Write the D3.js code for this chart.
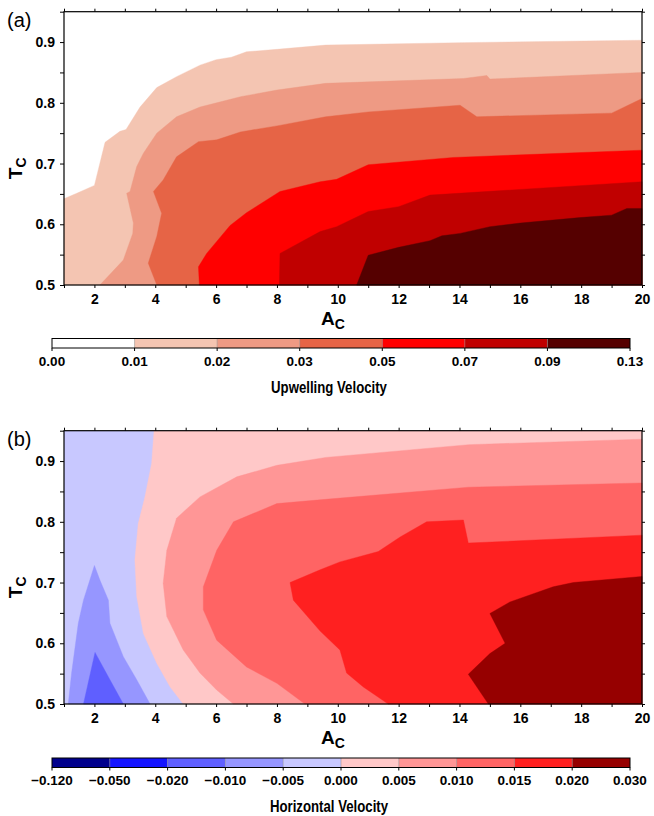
<!DOCTYPE html>
<html>
<head>
<meta charset="utf-8">
<script src="https://cdn.jsdelivr.net/npm/d3@7"></script>
<style>
  html, body { margin: 0; padding: 0; background: #fff; }
  svg { display: block; }
  text { font-family: "Liberation Sans", Arial, Helvetica, sans-serif; }
</style>
</head>
<body>
<svg id="chart" width="654" height="816"></svg>
<script>
// ---------------- DATA ----------------
const A_DOMAIN = [1, 20];
const T_DOMAIN = [0.5, 0.95];
const xTickValues = d3.range(1, 21);            // every integer, labelled when even
const yTickValues = d3.range(0.5, 0.951, 0.05);  // every 0.05, labelled at 0.1

// (a) Upwelling velocity: contour levels, colours and boundaries of region >= level
const upwLabels = ["0.00", "0.01", "0.02", "0.03", "0.05", "0.07", "0.09", "0.13"];
const upwColors = ["#ffffff", "#f4c5b2", "#ee9a84", "#e66446", "#ff0000", "#c00000", "#550000"];
const upw001 = [[20,0.903],[14,0.899],[9.6,0.895],[8.0,0.888],[7.0,0.884],[6.5,0.875],[6.0,0.871],[5.47,0.862],[4.7,0.843],[4.05,0.825],[3.5,0.793],[3.04,0.756],[2.84,0.753],[2.35,0.735],[2.0,0.664],[1.42,0.651],[1,0.642]];
const upw002 = [[20,0.850],[15.0,0.839],[14.9,0.845],[14.13,0.840],[9.6,0.832],[8.0,0.821],[6.8,0.81],[5.47,0.793],[4.7,0.777],[4.05,0.750],[3.61,0.717],[3.39,0.695],[3.17,0.654],[3.06,0.651],[3.28,0.602],[3.26,0.585],[2.95,0.541],[2.18,0.5]];
const upw003 = [[20,0.807],[19.0,0.783],[14.57,0.777],[14.02,0.796],[11.0,0.785],[9.6,0.777],[8.0,0.762],[6.8,0.752],[6.02,0.739],[5.42,0.736],[4.7,0.711],[4.26,0.673],[3.94,0.654],[4.21,0.618],[4.05,0.580],[3.77,0.536],[4.05,0.5]];
const upw005 = [[20,0.722],[13.8,0.710],[11.0,0.698],[9.96,0.674],[9.42,0.670],[8.1,0.654],[7.0,0.619],[6.46,0.598],[5.69,0.552],[5.42,0.530],[5.45,0.5]];
const upw007 = [[20,0.670],[13.03,0.648],[12.0,0.629],[11.0,0.621],[9.96,0.596],[9.42,0.588],[8.1,0.552],[8.08,0.5]];
const upw009 = [[20,0.626],[19.5,0.626],[19.0,0.615],[17.96,0.611],[16.0,0.602],[15.0,0.596],[14.02,0.585],[13.42,0.581],[13.03,0.573],[12.0,0.562],[11.0,0.549],[10.62,0.5]];

// (b) Horizontal velocity
const horLabels = ["\u22120.120", "\u22120.050", "\u22120.020", "\u22120.010", "\u22120.005", "0.000", "0.005", "0.010", "0.015", "0.020", "0.030"];
const horColors = ["#00008c", "#1414ff", "#5f5fff", "#9696ff", "#c8c8ff", "#ffc8c8", "#ff9696", "#ff6464", "#ff2020", "#960000"];
const horM001  = [[2.95,0.5],[2.51,0.54],[2.02,0.585],[1.64,0.5]];                     // <= -0.010
const horM0005 = [[3.83,0.5],[3.39,0.540],[2.95,0.578],[2.51,0.633],[2.46,0.671],[2.18,0.704],[2.0,0.728],[1.85,0.704],[1.64,0.671],[1.47,0.633],[1.25,0.551],[1.14,0.5]]; // <= -0.005
const hor0     = [[3.96,0.95],[3.88,0.896],[3.66,0.841],[3.44,0.797],[3.33,0.737],[3.39,0.677],[3.61,0.616],[4.05,0.567],[4.49,0.528],[4.92,0.5]];
const hor0005  = [[20,0.936],[14.3,0.927],[9.6,0.906],[8.0,0.893],[6.68,0.874],[5.47,0.841],[4.7,0.806],[4.38,0.753],[4.26,0.699],[4.38,0.644],[4.92,0.589],[5.47,0.551],[6.02,0.523],[6.57,0.5]];
const hor001   = [[20,0.864],[14.3,0.857],[9.6,0.837],[8.0,0.830],[6.57,0.800],[6.02,0.753],[5.58,0.693],[5.58,0.655],[6.02,0.605],[7.0,0.561],[8.0,0.534],[8.92,0.5]];
const hor0015  = [[20,0.778],[14.29,0.765],[14.13,0.803],[12.92,0.800],[12.05,0.775],[11.33,0.751],[10.07,0.734],[9.42,0.721],[8.43,0.700],[8.54,0.671],[9.42,0.620],[10.07,0.589],[10.29,0.551],[10.84,0.528],[11.66,0.5]];
const hor002   = [[20,0.710],[17.74,0.700],[17.08,0.693],[15.66,0.668],[15.0,0.649],[15.5,0.600],[15.0,0.583],[14.29,0.549],[14.95,0.5]];

// ---------------- DRAWING ----------------
const svg = d3.select("#chart");
const FONT = "'Liberation Sans', Arial, Helvetica, sans-serif";

function panel(opts) {
  const { top, bottom, left, right, regions, baseColor, tag, labels, colors, title, barTop } = opts;
  const x = d3.scaleLinear().domain(A_DOMAIN).range([left, right]);
  const y = d3.scaleLinear().domain(T_DOMAIN).range([bottom, top]);
  const g = svg.append("g");

  // base
  g.append("rect").attr("x", left).attr("y", top).attr("width", right - left).attr("height", bottom - top)
    .attr("fill", baseColor);

  // perimeter parameter (counter-clockwise: bottom ->, right ^, top <-, left v)
  const [a0, a1] = A_DOMAIN, [t0, t1] = T_DOMAIN;
  const eps = 1e-6;
  function sOf([a, t]) {
    if (Math.abs(t - t0) < eps) return (a - a0) / (a1 - a0);
    if (Math.abs(a - a1) < eps) return 1 + (t - t0) / (t1 - t0);
    if (Math.abs(t - t1) < eps) return 2 + (a1 - a) / (a1 - a0);
    return 3 + (t1 - t) / (t1 - t0);
  }
  const corners = [[a1, t0], [a1, t1], [a0, t1], [a0, t0]]; // s = 1,2,3,4(0)
  function closeRegion(pts) {
    const out = pts.slice();
    let sL = sOf(pts[pts.length - 1]);
    let sF = sOf(pts[0]);
    if (sF <= sL) sF += 4;
    for (let k = Math.ceil(sL + eps); k < sF; k++) out.push(corners[(k - 1) % 4]);
    return out;
  }
  const line = d3.line().x(d => x(d[0])).y(d => y(d[1]));
  regions.forEach(r => {
    g.append("path").attr("d", line(closeRegion(r.pts)) + "Z").attr("fill", r.color)
      .attr("stroke", r.color).attr("stroke-width", 0.4);
  });

  // frame
  g.append("rect").attr("x", left).attr("y", top).attr("width", right - left).attr("height", bottom - top)
    .attr("fill", "none").attr("stroke", "#000").attr("stroke-width", 1.2);

  // axes
  const axB = d3.axisBottom(x).tickValues(xTickValues).tickSize(3).tickPadding(6)
    .tickFormat(d => d % 2 === 0 ? d : "");
  const axT = d3.axisTop(x).tickValues(xTickValues).tickSize(3).tickFormat("");
  const axL = d3.axisLeft(y).tickValues(yTickValues).tickSize(4).tickPadding(5)
    .tickFormat(d => (Math.round(d * 100) % 10 === 0) ? d3.format(".1f")(d) : "");
  const axR = d3.axisRight(y).tickValues(yTickValues).tickSize(3).tickFormat("");
  [[axB, `translate(0,${bottom})`], [axT, `translate(0,${top})`], [axL, `translate(${left},0)`], [axR, `translate(${right},0)`]]
    .forEach(([ax, tr]) => {
      const a = g.append("g").attr("transform", tr).call(ax);
      a.select(".domain").remove();
      a.selectAll("line").attr("stroke", "#000");
      a.selectAll("text").attr("font-family", FONT).attr("font-size", 14).attr("font-weight", "bold").attr("fill", "#000");
    });

  // panel tag
  g.append("text").attr("x", 7).attr("y", top + 15).attr("font-size", 20).attr("font-family", FONT).text(tag);

  // y label T_C
  const yl = g.append("text").attr("transform", `translate(22,${(top + bottom) / 2 + 20}) rotate(-90)`)
    .attr("font-family", FONT).attr("font-weight", "bold").attr("font-size", 19).attr("text-anchor", "middle");
  yl.append("tspan").text("T");
  yl.append("tspan").attr("font-size", 14).attr("dy", 4).text("C");

  // x label A_C
  const xl = g.append("text").attr("x", (left + right) / 2 - 20).attr("y", bottom + 40)
    .attr("font-family", FONT).attr("font-weight", "bold").attr("font-size", 19).attr("text-anchor", "middle");
  xl.append("tspan").text("A");
  xl.append("tspan").attr("font-size", 14).attr("dy", 4).text("C");

  // colour bar
  const cb = d3.scalePoint().domain(labels).range([52, 630]);
  const barH = 9.5;
  const cg = g.append("g");
  cg.selectAll("rect.seg").data(colors).join("rect").attr("class", "seg")
    .attr("x", (d, i) => cb(labels[i])).attr("y", barTop)
    .attr("width", (d, i) => cb(labels[i + 1]) - cb(labels[i])).attr("height", barH)
    .attr("fill", d => d);
  cg.selectAll("line.sep").data(labels.slice(1, -1)).join("line").attr("class", "sep")
    .attr("x1", d => cb(d)).attr("x2", d => cb(d)).attr("y1", barTop).attr("y2", barTop + barH)
    .attr("stroke", "#888").attr("stroke-width", 0.5);
  cg.append("rect").attr("x", 52).attr("y", barTop).attr("width", 578).attr("height", barH)
    .attr("fill", "none").attr("stroke", "#000").attr("stroke-width", 1);
  cg.selectAll("line.tk").data(labels).join("line").attr("class", "tk")
    .attr("x1", d => cb(d)).attr("x2", d => cb(d)).attr("y1", barTop + barH).attr("y2", barTop + barH + 3)
    .attr("stroke", "#000");
  cg.selectAll("text.lb").data(labels).join("text").attr("class", "lb")
    .attr("x", d => cb(d)).attr("y", barTop + 27).attr("text-anchor", "middle")
    .attr("font-family", FONT).attr("font-size", 13.5).attr("font-weight", "bold").text(d => d);
  cg.append("text").attr("transform", `translate(329,${barTop + 54}) scale(0.8,1)`).attr("text-anchor", "middle")
    .attr("font-family", FONT).attr("font-size", 16.5).attr("font-weight", "bold").text(title);
}

panel({
  top: 11.7, bottom: 285, left: 64, right: 642, tag: "(a)", baseColor: upwColors[0],
  regions: [
    { pts: upw001, color: upwColors[1] },
    { pts: upw002, color: upwColors[2] },
    { pts: upw003, color: upwColors[3] },
    { pts: upw005, color: upwColors[4] },
    { pts: upw007, color: upwColors[5] },
    { pts: upw009, color: upwColors[6] }
  ],
  labels: upwLabels, colors: upwColors, title: "Upwelling Velocity", barTop: 338.5
});

panel({
  top: 430.7, bottom: 704, left: 64, right: 642, tag: "(b)", baseColor: horColors[4],
  regions: [
    { pts: horM0005, color: horColors[3] },
    { pts: horM001, color: horColors[2] },
    { pts: hor0, color: horColors[5] },
    { pts: hor0005, color: horColors[6] },
    { pts: hor001, color: horColors[7] },
    { pts: hor0015, color: horColors[8] },
    { pts: hor002, color: horColors[9] }
  ],
  labels: horLabels, colors: horColors, title: "Horizontal Velocity", barTop: 758
});
</script>
</body>
</html>
